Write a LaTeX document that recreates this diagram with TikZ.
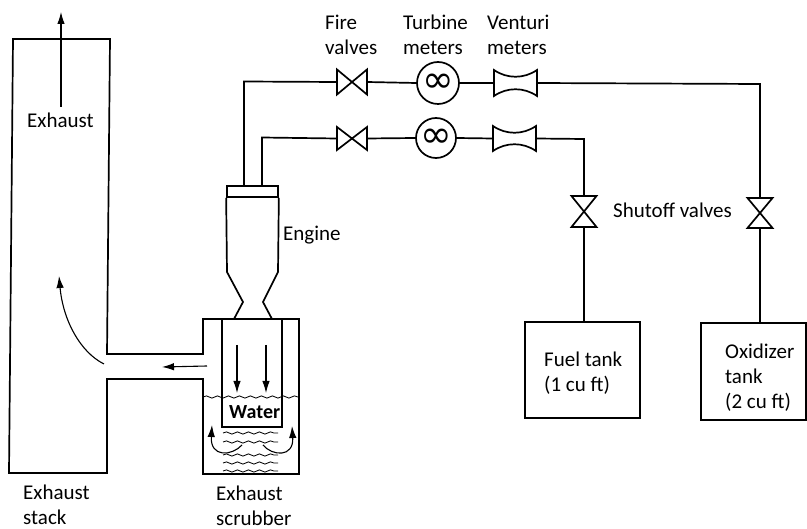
\documentclass[tikz,border=0pt]{standalone}
\usepackage{fontspec}
\setmainfont{Carlito}
\newfontfamily\symfont{DejaVu Sans}
\usetikzlibrary{arrows.meta,decorations.pathmorphing}
\tikzset{
  x=1pt,y=-1pt,
  pipe/.style={line width=1.7pt,line join=miter},
  flow/.style={line width=1.1pt,-{Latex[length=12pt,width=7.5pt]}},
  wave/.style={line width=0.8pt,decorate,decoration={snake,segment length=11pt,amplitude=1.1pt}},
  lbl/.style={font=\fontsize{21}{25}\selectfont,inner sep=0pt,align=left,anchor=west,text=black},
  tank/.style={draw,pipe,rectangle,inner sep=0pt},
  bow/.style={rectangle,inner sep=0pt,outer sep=0pt},
  meter/.style={draw,pipe,circle,inner sep=0pt},
  infty/.style={inner sep=0pt,font=\symfont\fontsize{38}{38}\selectfont},
}
\newcommand{\hvalve}[1]{\draw[pipe] (#1.north west)--(#1.south east)--(#1.north east)--(#1.south west)--cycle;}
\newcommand{\vvalve}[1]{\draw[pipe] (#1.north west)--(#1.north east)--(#1.south west)--(#1.south east)--cycle;}
\newcommand{\venturi}[1]{\draw[pipe] (#1.north west)--(#1.south west)
  .. controls ([yshift=9pt,xshift=13pt]#1.south west) and ([yshift=9pt,xshift=-13pt]#1.south east) .. (#1.south east)
  --(#1.north east)
  .. controls ([yshift=-9pt,xshift=-13pt]#1.north east) and ([yshift=-9pt,xshift=13pt]#1.north west) .. (#1.north west)--cycle;}
\begin{document}
\begin{tikzpicture}
\useasboundingbox (0,0) rectangle (807,529);
% valves, meters
\node[bow,minimum width=30pt,minimum height=25pt] (fv1) at (352,82) {};
\node[bow,minimum width=30pt,minimum height=23pt] (fv2) at (352,138.5) {};
\node[meter,minimum size=42pt] (tm1) at (438,83) {};
\node[meter,minimum size=40pt] (tm2) at (436,138) {};
\node[infty] (inf1) at (438,83) {∞};
\node[infty] (inf2) at (436,138) {∞};
\node[bow,minimum width=43pt,minimum height=26pt] (vm1) at (515.5,83) {};
\node[bow,minimum width=43pt,minimum height=25pt] (vm2) at (514.5,138.5) {};
\node[bow,minimum width=25pt,minimum height=31pt] (sv1) at (584,211.5) {};
\node[bow,minimum width=25pt,minimum height=30pt] (sv2) at (760,213) {};
\node[tank,minimum width=115pt,minimum height=96pt] (fuel) at (582.5,370) {};
\node[tank,minimum width=105pt,minimum height=97pt] (ox) at (753.5,371.5) {};
\hvalve{fv1}\hvalve{fv2}\venturi{vm1}\venturi{vm2}\vvalve{sv1}\vvalve{sv2}
% engine
\node[tank,minimum width=51pt,minimum height=11pt] (cap) at (252.5,191.5) {};
\coordinate (capo) at (244,186);
\coordinate (capi) at (262,186);
\coordinate (c1) at (244,81.5);
\coordinate (c2) at (262,137.5);
\coordinate (c3) at (760,84);
\coordinate (c4) at (584,139);
\draw[pipe] (capo)--(c1)--(fv1.west);
\draw[pipe] (capi)--(c2)--(fv2.west);
\draw[pipe] (fv1.east)--(tm1.west);
\draw[pipe] (fv2.east)--(tm2.west);
\draw[pipe] (tm1.east)--(vm1.west);
\draw[pipe] (tm2.east)--(vm2.west);
\draw[pipe] (vm1.east)--(c3)--(sv2.north);
\draw[pipe] (vm2.east)--(c4)--(sv1.north);
\draw[pipe] (sv1.south)--(sv1.south |- fuel.north);
\draw[pipe] (sv2.south)--(sv2.south |- ox.north);
\draw[pipe] (cap.south west)--(227,272)--(243,302)--(234,319);
\draw[pipe] (cap.south east)--(278,272)--(263,302)--(272,319);
% stack and scrubber
\draw[pipe] (110,39)--(13,39)--(9,473)--(107,473)--(107,379)--(203,379)--(203,474)--(299,474)--(299,319)--(203,319)--(203,354)--(107,354)--cycle;
\draw[pipe] (222,319)--(222,427)--(282,427)--(282,319);
% waves
\draw[wave] (203,397)--(299,397);
\foreach \y in {433,442,455,463,471} \draw[wave] (223,\y)--(278,\y);
% arrows
\coordinate (a1s) at (61,107); \coordinate (a1e) at (61,12);
\draw[flow] (a1s)--(a1e);
\coordinate (a2s) at (207,366); \coordinate (a2e) at (162,367);
\draw[flow] (a2s)--(a2e);
\coordinate (a3s) at (104,364); \coordinate (a3e) at (59,276);
\draw[flow] (a3s) .. controls (80,352) and (63,320) .. (a3e);
\coordinate (a4s) at (237,345); \coordinate (a4e) at (237,393);
\draw[flow] (a4s)--(a4e);
\coordinate (a5s) at (266,345); \coordinate (a5e) at (266,393);
\draw[flow] (a5s)--(a5e);
\coordinate (a6s) at (242,445); \coordinate (a6e) at (212,425);
\draw[flow] (a6s) .. controls (232,456) and (210,458) .. (a6e);
\coordinate (a7s) at (263,445); \coordinate (a7e) at (292,426);
\draw[flow] (a7s) .. controls (272,456) and (294,458) .. (a7e);
% labels
\node[lbl] (l1) at (27,120) {Exhaust};
\node[lbl] (l2) at (23,504.5) {Exhaust\\stack};
\node[lbl] (l3) at (216,505.5) {Exhaust\\scrubber};
\node[lbl] (l4) at (325,34.5) {Fire\\valves};
\node[lbl] (l5) at (403,34.5) {Turbine\\meters};
\node[lbl] (l6) at (487,34.5) {Venturi\\meters};
\node[lbl] (l7) at (283,235) {Engine};
\node[lbl] (l8) at (613,210) {Shutoff valves};
\node[lbl] (l9) at (544,373) {Fuel tank\\(1 cu ft)};
\node[lbl] (l10) at (725,378) {Oxidizer\\tank\\(2 cu ft)};
\node[lbl,font=\fontsize{20}{25}\selectfont\bfseries] (l11) at (229,412) {Water};
\end{tikzpicture}
\end{document}
